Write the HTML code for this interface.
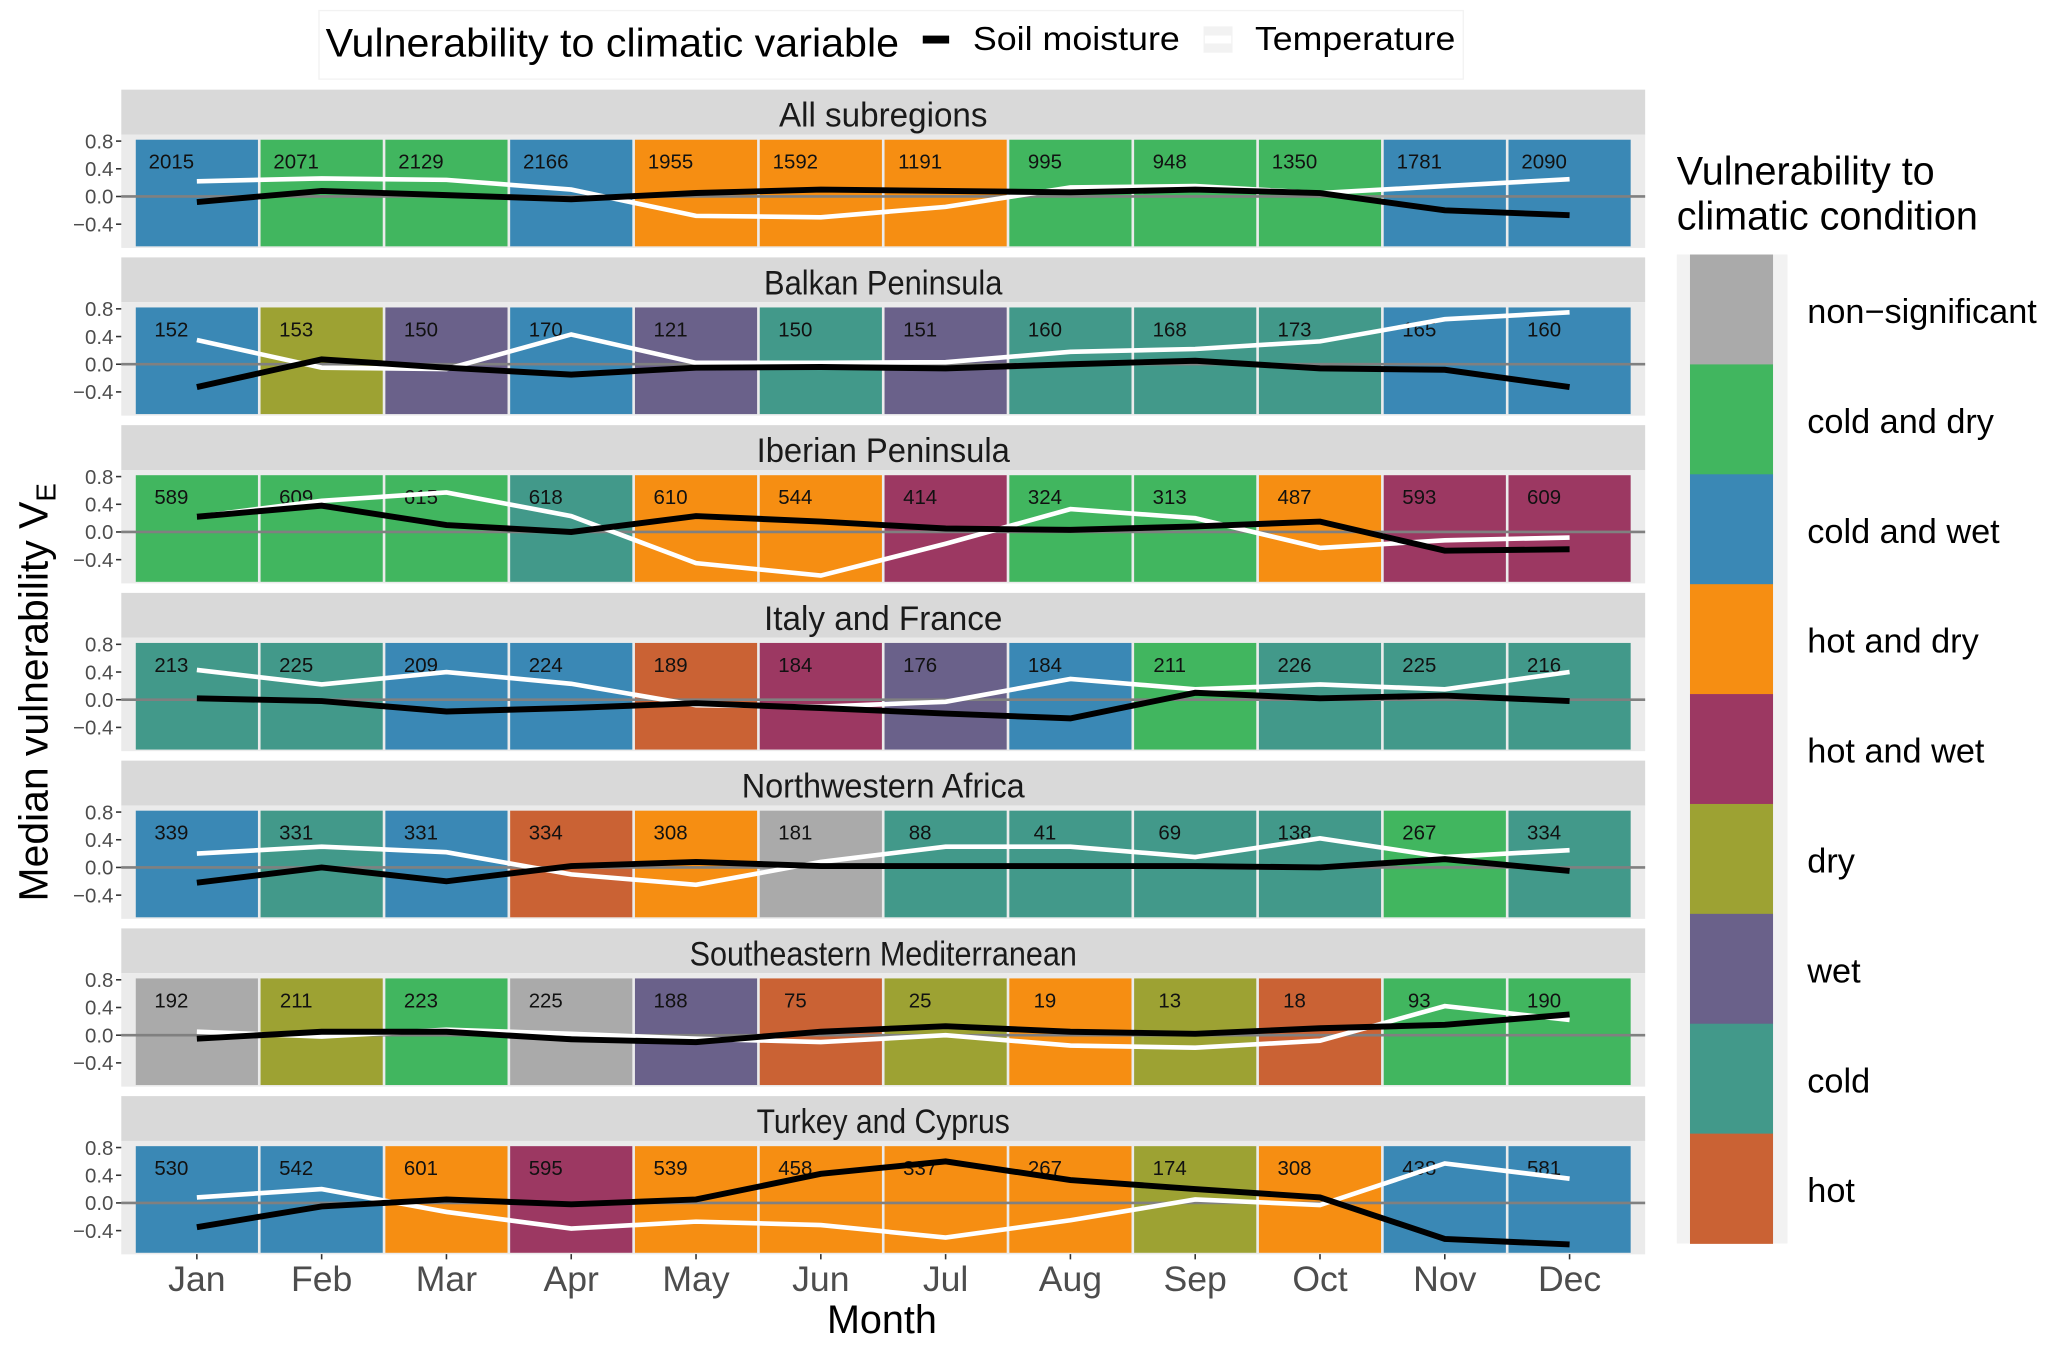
<!DOCTYPE html>
<html><head><meta charset="utf-8"><style>
html,body{margin:0;padding:0;background:#fff;}
svg{display:block;font-family:"Liberation Sans",sans-serif;}
</style></head><body>
<svg id="chart" width="2067" height="1353" viewBox="0 0 1568 1026" preserveAspectRatio="none" xmlns="http://www.w3.org/2000/svg">
<g>
<rect x="242" y="8" width="868" height="52" fill="#fff" stroke="#f2f2f2"/>
<text x="247" y="43" font-size="30" fill="#000" textLength="435" lengthAdjust="spacingAndGlyphs">Vulnerability to climatic variable</text>
<rect x="700" y="27" width="20" height="6" fill="#000"/>
<text x="738" y="38" font-size="25" fill="#000" textLength="157" lengthAdjust="spacingAndGlyphs">Soil moisture</text>
<rect x="913" y="20" width="22" height="20" fill="#f2f2f2"/>
<rect x="914" y="27" width="20" height="6" fill="#fff"/>
<text x="952" y="38" font-size="25" fill="#000" textLength="152" lengthAdjust="spacingAndGlyphs">Temperature</text>
</g>
<g id="panels"></g>
<text x="669" y="1011" font-size="30" text-anchor="middle" fill="#000">Month</text>
<text transform="translate(36,525) rotate(-90)" font-size="31" text-anchor="middle" fill="#000">Median vulnerability V<tspan font-size="21" dy="6">E</tspan></text>
<g id="legend">
<text x="1272" y="140" font-size="30" fill="#000">Vulnerability to</text>
<text x="1272" y="174" font-size="30" fill="#000">climatic condition</text>
<rect x="1272" y="193" width="84" height="750" fill="#f2f2f2"/>
</g>
</svg>
<script>
const months = ["Jan","Feb","Mar","Apr","May","Jun","Jul","Aug","Sep","Oct","Nov","Dec"];
const regions = ["All subregions","Balkan Peninsula","Iberian Peninsula","Italy and France","Northwestern Africa","Southeastern Mediterranean","Turkey and Cyprus"];
const legendLabels = ["non\u2212significant","cold and dry","cold and wet","hot and dry","hot and wet","dry","wet","cold","hot"];
const legendCodes = ["N","CD","CW","HD","HW","D","W","C","H"];
const yTicks = [0.8,0.4,0.0,-0.4];
const yTickLabels = ["0.8","0.4","0.0","\u22120.4"];
const categories = [
 ["CW","CD","CD","CW","HD","HD","HD","CD","CD","CD","CW","CW"],
 ["CW","D","W","CW","W","C","W","C","C","C","CW","CW"],
 ["CD","CD","CD","C","HD","HD","HW","CD","CD","HD","HW","HW"],
 ["C","C","CW","CW","H","HW","W","CW","CD","C","C","C"],
 ["CW","C","CW","H","HD","N","C","C","C","C","CD","C"],
 ["N","D","CD","N","W","H","D","HD","D","H","CD","CD"],
 ["CW","CW","HD","HW","HD","HD","HD","HD","D","HD","CW","CW"]];
const counts = [
 [2015,2071,2129,2166,1955,1592,1191,995,948,1350,1781,2090],
 [152,153,150,170,121,150,151,160,168,173,165,160],
 [589,609,615,618,610,544,414,324,313,487,593,609],
 [213,225,209,224,189,184,176,184,211,226,225,216],
 [339,331,331,334,308,181,88,41,69,138,267,334],
 [192,211,223,225,188,75,25,19,13,18,93,190],
 [530,542,601,595,539,458,337,267,174,308,438,581]];
const soil = [
 [-0.08,0.08,0.02,-0.04,0.05,0.10,0.08,0.06,0.10,0.05,-0.20,-0.27],
 [-0.33,0.07,-0.05,-0.15,-0.05,-0.04,-0.06,0.0,0.05,-0.06,-0.08,-0.33],
 [0.22,0.38,0.10,0.0,0.23,0.15,0.05,0.03,0.08,0.15,-0.27,-0.25],
 [0.02,-0.02,-0.17,-0.12,-0.05,-0.12,-0.20,-0.27,0.10,0.02,0.06,-0.02],
 [-0.22,0.0,-0.20,0.02,0.08,0.02,0.02,0.02,0.02,0.0,0.12,-0.05],
 [-0.05,0.05,0.05,-0.06,-0.10,0.05,0.13,0.05,0.02,0.10,0.15,0.30],
 [-0.35,-0.05,0.05,-0.02,0.05,0.42,0.60,0.33,0.20,0.08,-0.52,-0.60]];
const temp = [
 [0.22,0.26,0.24,0.10,-0.28,-0.30,-0.15,0.13,0.15,0.05,0.15,0.25],
 [0.35,-0.05,-0.07,0.43,0.02,0.02,0.03,0.18,0.22,0.33,0.65,0.75],
 [0.22,0.45,0.57,0.23,-0.45,-0.63,-0.17,0.33,0.20,-0.23,-0.12,-0.08],
 [0.43,0.22,0.40,0.23,-0.08,-0.10,-0.03,0.30,0.15,0.22,0.15,0.40],
 [0.20,0.30,0.22,-0.10,-0.25,0.08,0.30,0.30,0.15,0.42,0.15,0.25],
 [0.05,-0.02,0.08,0.02,-0.05,-0.10,0.0,-0.15,-0.18,-0.08,0.42,0.22],
 [0.08,0.20,-0.13,-0.37,-0.27,-0.32,-0.50,-0.25,0.05,-0.03,0.57,0.35]];

const COLORS = {N:"#aaaaaa",CD:"#41b65f",CW:"#3a88b5",HD:"#f68e12",HW:"#9c3862",D:"#9da233",W:"#6a618a",C:"#42998a",H:"#ca6234"};
const NS="http://www.w3.org/2000/svg";
function mk(tag, attrs, parent){const e=document.createElementNS(NS,tag);for(const k in attrs)e.setAttribute(k,attrs[k]);parent.appendChild(e);return e;}
const PX0=92, PX1=1248, TX0=102, TX1=1238;
const TW=(TX1-TX0)/12;
function xScale(i){return TX0+TW*(i+0.5);}
function panelTop(p){return 68+127.2*p;}
function yScale(p,v){return panelTop(p)+81-v*52.5;}
const root=document.getElementById('panels');
regions.forEach((name,p)=>{
  const g=mk('g',{},root);
  
  
  const top=panelTop(p);
  const strip=mk('rect',{x:PX0,y:top,width:PX1-PX0,height:34,fill:'#d9d9d9'},g);
  
  
  const st=mk('text',{x:(PX0+PX1)/2,y:top+28,'font-size':26,'text-anchor':'middle',fill:'#1a1a1a',textLength:name.length*11.3,lengthAdjust:'spacingAndGlyphs'},g);
  st.textContent=name;
  
  
  mk('rect',{x:PX0,y:top+34,width:PX1-PX0,height:86,fill:'#ebebeb'},g);
  const yt=yScale(p,0.82), yb=yScale(p,-0.72);
  categories[p].forEach((c,i)=>{
    const r=mk('rect',{x:TX0+TW*i+1,y:yt,width:TW-2,height:yb-yt,fill:COLORS[c]},g);
    
    
    const t=mk('text',{x:TX0+TW*i+28,y:yt+22,'font-size':15.5,'text-anchor':'middle',fill:'#111'},g);
    t.textContent=counts[p][i];
    
    
  });
  mk('line',{x1:PX0,x2:PX1,y1:yScale(p,0),y2:yScale(p,0),stroke:'#808080','stroke-width':2},g);
  yTicks.forEach((v,k)=>{
    const y=yScale(p,v);
    mk('line',{x1:88,x2:92,y1:y,y2:y,stroke:'#333','stroke-width':1.2},g);
    const t=mk('text',{x:86,y:y+5.5,'font-size':15.5,'text-anchor':'end',fill:'#4d4d4d'},g);
    t.textContent=yTickLabels[k];
    
    
  });
  const tl=mk('polyline',{points:temp[p].map((v,i)=>xScale(i)+','+yScale(p,v)).join(' '),fill:'none',stroke:'#fff','stroke-width':3.5},g);
  
  
  const sl=mk('polyline',{points:soil[p].map((v,i)=>xScale(i)+','+yScale(p,v)).join(' '),fill:'none',stroke:'#000','stroke-width':4.5},g);
  
  
});
const bottom=yScale(6,-0.72);
months.forEach((m,i)=>{
  mk('line',{x1:xScale(i),x2:xScale(i),y1:bottom+1,y2:bottom+5,stroke:'#333','stroke-width':1.2},root);
  const t=mk('text',{x:xScale(i),y:979,'font-size':27,'text-anchor':'middle',fill:'#4d4d4d'},root);
  t.textContent=m;
  
  
});
const lg=document.getElementById('legend');
legendCodes.forEach((c,k)=>{
  const r=mk('rect',{x:1282,y:193+k*83.33,width:63,height:83.6,fill:COLORS[c]},lg);
  
  
  const t=mk('text',{x:1371,y:193+k*83.33+52,'font-size':26,fill:'#000'},lg);
  t.textContent=legendLabels[k];
  
  
});
</script>
</body></html>
